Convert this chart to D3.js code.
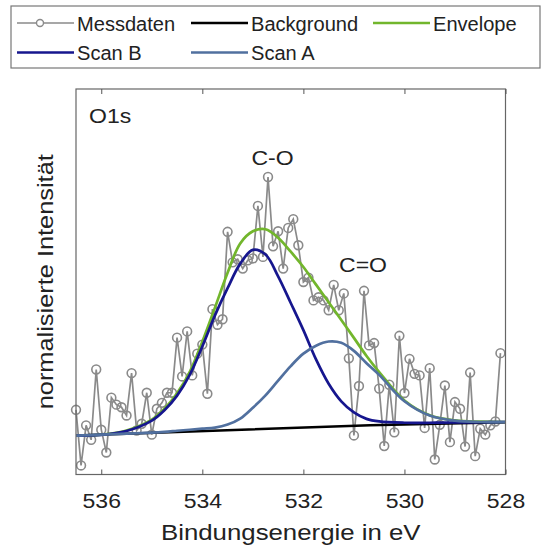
<!DOCTYPE html>
<html>
<head>
<meta charset="utf-8">
<script src="https://cdn.jsdelivr.net/npm/d3@7"></script>
<style>
body { margin: 0; background: #fff; }
text { font-family: "Liberation Sans", Arial, sans-serif; fill: #222; }
</style>
</head>
<body>
<div id="chart"></div>
<script>
// measured points (binding energy in eV, normalised intensity)
var messEnergie = [536.5, 536.4, 536.3, 536.2, 536.1, 536.0, 535.9, 535.8, 535.7, 535.6,
    535.5, 535.4, 535.3, 535.2, 535.1, 535.0, 534.9, 534.8, 534.7, 534.6,
    534.5, 534.4, 534.3, 534.2, 534.1, 534.0, 533.9, 533.8, 533.7, 533.6,
    533.5, 533.4, 533.3, 533.2, 533.1, 533.0, 532.9, 532.8, 532.7, 532.6,
    532.5, 532.4, 532.3, 532.2, 532.1, 532.0, 531.9, 531.8, 531.7, 531.6,
    531.5, 531.4, 531.3, 531.2, 531.1, 531.0, 530.9, 530.8, 530.7, 530.6,
    530.5, 530.4, 530.3, 530.2, 530.1, 530.0, 529.9, 529.8, 529.7, 529.6,
    529.5, 529.4, 529.3, 529.2, 529.1, 529.0, 528.9, 528.8, 528.7, 528.6,
    528.5, 528.4, 528.3, 528.2, 528.1];
var messIntensitaet = [10.0, -11.5, 4.0, -1.6, 25.6, 2.3, -6.5, 14.7, 12.0, 11.0,
    7.8, 24.2, 2.0, 4.6, 16.6, 0.4, 10.4, 12.7, 16.6, 16.6,
    37.9, 22.9, 40.3, 23.3, 31.7, 35.2, 16.2, 48.9, 42.9, 45.0,
    78.8, 67.0, 68.2, 64.6, 67.8, 68.5, 88.8, 69.1, 100.0, 73.2,
    79.0, 64.6, 80.3, 83.7, 73.6, 59.4, 61.1, 52.3, 53.5, 52.3,
    48.5, 58.3, 48.5, 55.0, 29.9, 0.1, 19.2, 56.0, 34.9, 35.8,
    18.2, -4.0, 19.7, 1.3, 38.6, 16.5, 29.7, 23.9, 23.3, 3.0,
    26.1, -9.2, 4.2, 19.4, -2.5, 13.0, 10.4, -4.2, 24.4, -7.9,
    2.7, 0.4, 4.0, 5.5, 31.9];

var fitEnergie = [536.5, 536.0, 535.5, 535.0, 534.75, 534.5, 534.25, 534.0, 533.75, 533.5,
    533.25, 533.0, 532.75, 532.5, 532.25, 532.0, 531.75, 531.5, 531.25, 531.0,
    530.75, 530.5, 530.0, 529.5, 529.0, 528.5, 528.0];
var scanB = [0.0, 0.3, 1.8, 5.8, 9.8, 15.5, 23.5, 34.5, 46.5, 57.0,
    66.5, 71.8, 70.0, 61.6, 51.3, 40.8, 29.5, 20.1, 13.3, 9.0,
    6.5, 5.5, 5.0, 5.0, 5.1, 5.2, 5.3];
var scanA = [0.0, 0.4, 0.8, 1.2, 1.5, 1.9, 2.3, 2.7, 3.1, 4.3,
    6.6, 10.8, 15.6, 21.3, 26.9, 31.7, 34.8, 36.4, 35.9, 32.8,
    28.0, 23.5, 13.3, 7.8, 5.8, 5.3, 5.3];
var envelope = [0.0, 0.4, 2.0, 6.2, 10.4, 16.4, 24.6, 36.3, 49.5, 63.0,
    74.3, 79.0, 79.8, 76.5, 71.1, 65.2, 58.4, 51.6, 44.7, 37.8,
    30.8, 24.6, 13.6, 7.9, 5.9, 5.4, 5.3];
var bgEnergie = [536.5, 533.65, 530.68, 528.0];
var background = [0.1, 2.0, 4.0, 5.2];

var xTicks = [536, 534, 532, 530, 528];

var colors = {mess: "#8a8a8a", bg: "#000000", env: "#72b62c", scanB: "#16168e", scanA: "#51709f"};

// axis text in the reference is a little wider than Arial
var textStretch = 1.18;

var svgWidth = 544;
var svgHeight = 548;
var margin = {top: 89, right: 38.5, bottom: 73.5, left: 76};
var width = svgWidth - margin.left - margin.right;
var height = svgHeight - margin.top - margin.bottom;

var svg = d3.select("#chart")
    .append("svg")
    .attr("width", svgWidth)
    .attr("height", svgHeight);

var chartGroup = svg.append("g")
    .attr("transform", `translate(${margin.left}, ${margin.top})`);

var x = d3.scaleLinear().domain([536.5, 528]).range([0, width]);
var y = d3.scaleLinear().domain([-15, 134]).range([height, 0]);

function addText(parent, tx, ty, str, size, anchor, rot, stretch) {
    var s = stretch || textStretch;
    return parent.append("text")
        .attr("transform", `translate(${tx},${ty})` + (rot ? ` rotate(${rot})` : "") + ` scale(${s},1)`)
        .attr("text-anchor", anchor || "start")
        .style("font-size", size + "px")
        .text(str);
}

// measured data: grey line with open circles
var mess = messEnergie.map((e, i) => ({e: e, v: messIntensitaet[i]}));
var line = d3.line().x(d => x(d.e)).y(d => y(d.v));

chartGroup.append("path")
    .datum(mess)
    .attr("d", line)
    .attr("fill", "none")
    .attr("stroke", colors.mess)
    .attr("stroke-width", 1.7);

chartGroup.selectAll("circle.mess")
    .data(mess)
    .enter()
    .append("circle")
    .attr("class", "mess")
    .attr("cx", d => x(d.e))
    .attr("cy", d => y(d.v))
    .attr("r", 4.4)
    .attr("fill", "none")
    .attr("stroke", colors.mess)
    .attr("stroke-width", 1.6);

// background and fit curves
var bgData = bgEnergie.map((e, i) => ({e: e, v: background[i]}));
chartGroup.append("path")
    .datum(bgData)
    .attr("d", line)
    .attr("fill", "none")
    .attr("stroke", colors.bg)
    .attr("stroke-width", 2.5);

var smooth = d3.line().x(d => x(d.e)).y(d => y(d.v)).curve(d3.curveCatmullRom);
[[envelope, colors.env], [scanB, colors.scanB], [scanA, colors.scanA]].forEach(function(c) {
    chartGroup.append("path")
        .datum(fitEnergie.map((e, i) => ({e: e, v: c[0][i]})))
        .attr("d", smooth)
        .attr("fill", "none")
        .attr("stroke", c[1])
        .attr("stroke-width", 2.7);
});

// box and ticks
chartGroup.append("rect")
    .attr("width", width)
    .attr("height", height)
    .attr("fill", "none")
    .attr("stroke", "#666")
    .attr("stroke-width", 1.2);

var bottomAxis = d3.axisBottom(x).tickValues(xTicks).tickSizeInner(-5).tickSizeOuter(0).tickFormat(d3.format("d"));
var topAxis = d3.axisTop(x).tickValues(xTicks).tickSizeInner(-5).tickSizeOuter(0).tickFormat("");

var bAx = chartGroup.append("g")
    .attr("transform", `translate(0, ${height})`)
    .call(bottomAxis);
var tAx = chartGroup.append("g").call(topAxis);

[bAx, tAx].forEach(function(a) {
    a.select(".domain").remove();
    a.selectAll(".tick line").attr("stroke", "#555");
});
bAx.selectAll(".tick text")
    .attr("y", 33.5)
    .attr("dy", null)
    .attr("transform", `scale(${textStretch},1)`)
    .style("font-size", "19.5px")
    .style("font-family", "'Liberation Sans', Arial, sans-serif")
    .attr("fill", "#222");

// labels
addText(chartGroup, width / 2, 540 - margin.top, "Bindungsenergie in eV", 21.5, "middle", null, 1.2);
addText(svg, 53, margin.top + height / 2, "normalisierte Intensität", 21.5, "middle", -90);
addText(svg, 89, 123, "O1s", 19.5);
addText(chartGroup, x(532.61), y(104.6), "C-O", 19.5, "middle");
addText(chartGroup, x(530.82), y(63.2), "C=O", 19.5, "middle");

// legend
var legend = svg.append("g");
legend.append("rect")
    .attr("x", 11).attr("y", 6)
    .attr("width", 529).attr("height", 62)
    .attr("fill", "#fff")
    .attr("stroke", "#777")
    .attr("stroke-width", 1.2);

var legendItems = [
    {name: "Messdaten", color: colors.mess, w: 1.6, marker: true, lx: 17, row: 0},
    {name: "Background", color: colors.bg, w: 2.6, lx: 191, row: 0},
    {name: "Envelope", color: colors.env, w: 2.6, lx: 373, row: 0},
    {name: "Scan B", color: colors.scanB, w: 2.6, lx: 17, row: 1},
    {name: "Scan A", color: colors.scanA, w: 2.6, lx: 191, row: 1}
];
legendItems.forEach(function(d) {
    var ly = 23 + d.row * 29.5;
    legend.append("line")
        .attr("x1", d.lx).attr("x2", d.lx + 57)
        .attr("y1", ly).attr("y2", ly)
        .attr("stroke", d.color)
        .attr("stroke-width", d.w);
    if (d.marker) {
        legend.append("circle")
            .attr("cx", d.lx + 23).attr("cy", ly).attr("r", 3.5)
            .attr("fill", "#fff")
            .attr("stroke", d.color)
            .attr("stroke-width", 1.4);
    }
    addText(legend, d.lx + 60, ly + 7.5, d.name, 19.5, "start", null, 1.03);
});
</script>
</body>
</html>
